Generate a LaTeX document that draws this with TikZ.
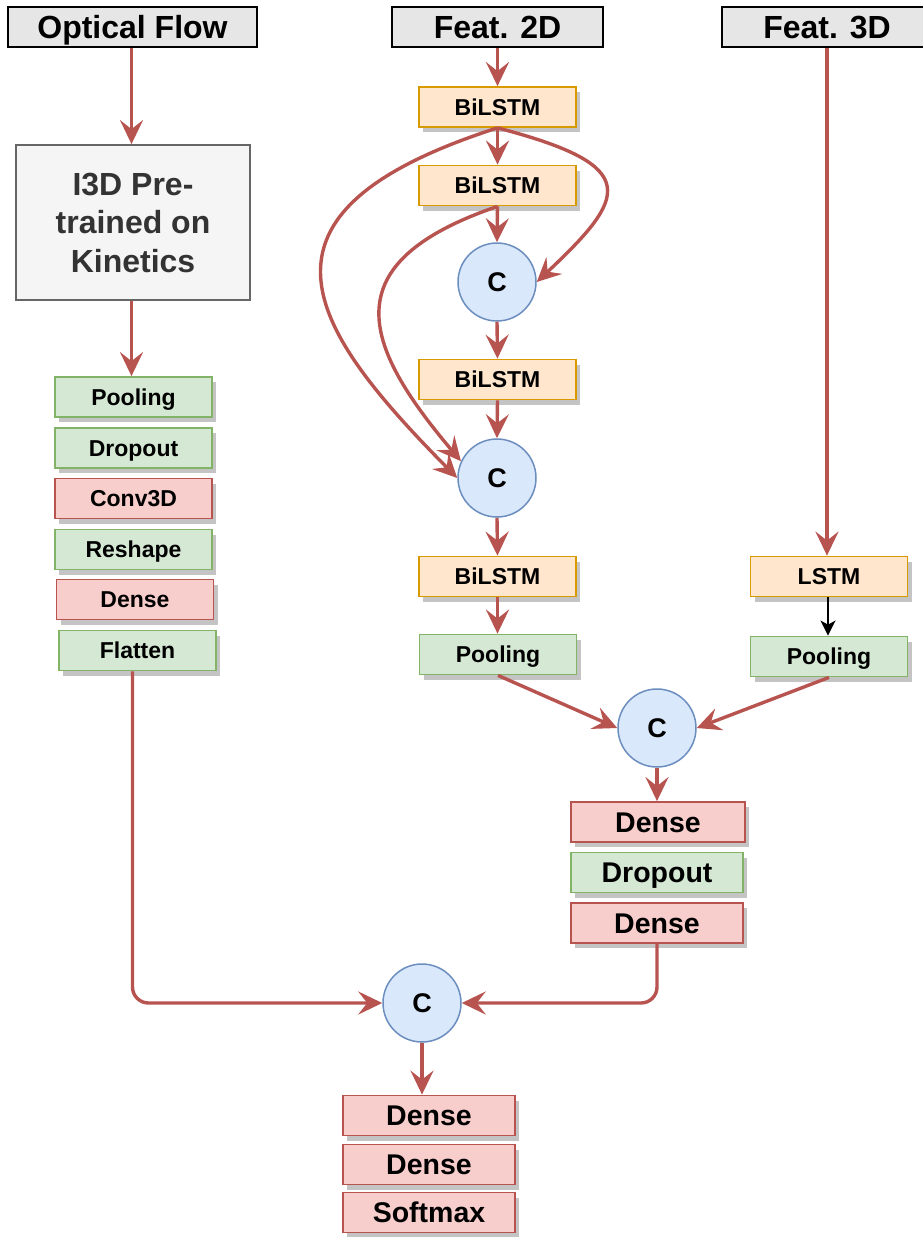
\documentclass[tikz,border=0pt]{standalone}
\usepackage{fontspec}
\setmainfont{Liberation Sans}
\usetikzlibrary{arrows.meta,shadows}

\definecolor{flowred}{HTML}{B85450}
\definecolor{orfill}{HTML}{FFE6CC}
\definecolor{orline}{HTML}{D79B00}
\definecolor{grfill}{HTML}{D5E8D4}
\definecolor{grline}{HTML}{82B366}
\definecolor{rdfill}{HTML}{F8CECC}
\definecolor{rdline}{HTML}{B85450}
\definecolor{blfill}{HTML}{DAE8FC}
\definecolor{blline}{HTML}{6C8EBF}
\definecolor{hdfill}{HTML}{E6E6E6}
\definecolor{i3dfill}{HTML}{F5F5F5}
\definecolor{i3dline}{HTML}{666666}
\definecolor{i3dtext}{HTML}{333333}
\definecolor{shadowgray}{HTML}{C4C4C4}

\begin{document}
\begin{tikzpicture}[x=1pt,y=-1pt,
  layer/.style={draw, line width=1.8pt, inner sep=0pt, minimum height=40pt,
    text height=16.5pt, text depth=0pt,
    font=\bfseries\fontsize{23}{27}\selectfont,
    drop shadow={shadow xshift=4pt, shadow yshift=-5pt, fill=shadowgray, opacity=1}},
  biglayer/.style={layer, text height=20.4pt,
    font=\bfseries\fontsize{28.5}{33}\selectfont},
  orbox/.style={layer, fill=orfill, draw=orline, minimum width=157pt},
  grbox/.style={layer, fill=grfill, draw=grline, minimum width=157pt},
  rdbox/.style={layer, fill=rdfill, draw=rdline, minimum width=157pt},
  biggr/.style={biglayer, fill=grfill, draw=grline, minimum width=172pt},
  bigrd/.style={biglayer, fill=rdfill, draw=rdline, minimum width=172pt},
  header/.style={draw=black, fill=hdfill, line width=1.8pt, inner sep=0pt,
    minimum height=40pt, text height=22.9pt, text depth=0pt,
    font=\bfseries\fontsize{32}{38}\selectfont},
  concat/.style={circle, draw=blline, fill=blfill, line width=1.5pt, inner sep=0pt,
    minimum size=78pt, text height=19.3pt, text depth=0pt,
    font=\bfseries\fontsize{27}{32}\selectfont},
  flow/.style={draw=flowred, line width=3.4pt,
    -{Stealth[length=24pt,width=23pt,inset=9pt]}},
  plain/.style={draw=black, line width=2pt,
    -{Stealth[length=15pt,width=15pt,inset=4pt]}}
]
\useasboundingbox (0,0) rectangle (923,1237);

% inputs
\node[header, minimum width=249pt] (hof) at (132.5,27) {Optical Flow};
\node[header, minimum width=211pt] (hf2) at (497.5,27) {Feat. 2D};
\node[header, minimum width=210pt] (hf3) at (827,27) {Feat. 3D};

% optical flow branch
\node[draw=i3dline, fill=i3dfill, line width=1.8pt, text=i3dtext, inner sep=0pt,
  minimum width=234pt, minimum height=155pt, align=center,
  font=\bfseries\fontsize{32}{38.5}\selectfont] (i3d) at (133,222.5)
  {I3D Pre-\\trained on\\Kinetics};
\node[grbox] (poolL) at (133.5,397) {Pooling};
\node[grbox] (dropL) at (133.5,448) {Dropout};
\node[rdbox] (conv) at (133.5,498.5) {Conv3D};
\node[grbox] (reshape) at (133.5,549.5) {Reshape};
\node[rdbox] (denseL) at (135,599.5) {Dense};
\node[grbox] (flatten) at (137.5,650.5) {Flatten};

% 2D feature branch
\node[orbox] (b1) at (497.5,107) {BiLSTM};
\node[orbox] (b2) at (497.5,185.5) {BiLSTM};
\node[concat] (c1) at (497,282) {C};
\node[orbox] (b3) at (497.5,379.5) {BiLSTM};
\node[concat] (c2) at (497,478) {C};
\node[orbox] (b4) at (497.5,576.5) {BiLSTM};
\node[grbox] (poolM) at (498,654.5) {Pooling};

% 3D feature branch
\node[orbox] (lstm) at (829,576.5) {LSTM};
\node[grbox] (poolR) at (829,656.5) {Pooling};

% feature fusion
\node[concat] (c3) at (657,728) {C};
\node[bigrd, minimum width=174pt] (denseR1) at (658,822) {Dense};
\node[biggr] (dropR) at (657,872.5) {Dropout};
\node[bigrd] (denseR2) at (657,923) {Dense};

% final fusion and classifier
\node[concat] (c4) at (422,1003) {C};
\node[bigrd] (denseB1) at (429,1115.5) {Dense};
\node[bigrd] (denseB2) at (429,1164.5) {Dense};
\node[bigrd] (softmax) at (429,1212.5) {Softmax};

% connectors
\draw[flow] (hof.south -| i3d.north) ++(-1.5,0) coordinate (ofs) -- (ofs |- i3d.north);
\draw[flow] (i3d.south) ++(-1.5,0) coordinate (i3s) -- (i3s |- poolL.north);

\draw[flow] (hf2.south) -- (b1.north);
\draw[flow] (b1.south) -- (b2.north);
\draw[flow] (b2.south) -- (c1.north);
\draw[flow] (c1.south) -- (b3.north);
\draw[flow] (b3.south) -- (c2.north);
\draw[flow] (c2.south) -- (b4.north);
\draw[flow] (b4.south) -- (b4.south |- poolM.north);

\draw[flow] (b1.south) .. controls (232,213) and (308,327) .. (c2.west);
\draw[flow] (b2.south) .. controls (332,263) and (362,344) .. (c2.155);
\draw[flow] (b1.south) .. controls (644,166) and (627,197) .. (c1.east);

\draw[flow] (hf3.south) -- (hf3.south |- lstm.north);
\draw[plain] (lstm.south) ++(-1,0) coordinate (ls) -- (ls |- poolR.north);

\draw[flow] (poolM.south) -- (c3.west);
\draw[flow] (poolR.south) -- (c3.east);
\draw[flow] (c3.south) -- (c3.south |- denseR1.north);

\draw[flow, rounded corners=16pt] (denseR2.south) |- (c4.east);
\draw[flow, rounded corners=16pt] (flatten.south) ++(-5,0) coordinate (fs) |- (c4.west);
\draw[flow] (c4.south) -- (c4.south |- denseB1.north);
\end{tikzpicture}
\end{document}
